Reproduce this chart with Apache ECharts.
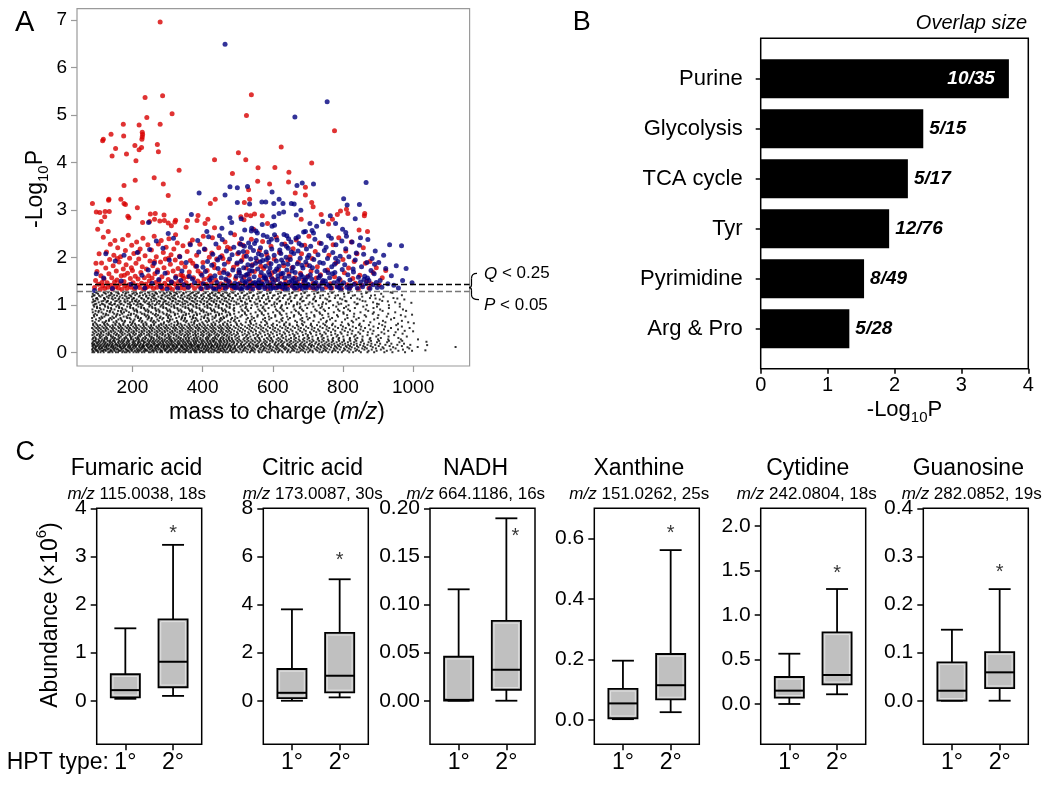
<!DOCTYPE html>
<html><head><meta charset="utf-8">
<script src="https://cdn.jsdelivr.net/npm/echarts@6/dist/echarts.min.js"></script>
<style>html,body{margin:0;padding:0;background:#fff}#c{width:1050px;height:785px}</style>
</head><body><div id="c"></div>
<script>
// ---------------- DATA ----------------
const qThreshold = 1.44;   // Q < 0.25
const pThreshold = 1.30;   // P < 0.05
const mzTicks = [200, 400, 600, 800, 1000];
const logTicks = [0, 1, 2, 3, 4, 5, 6, 7];
const redPts = [[279,6.96],[286,5.41],[236,5.37],[241,4.95],[313,5.03],[174,4.81],[219,4.79],[279,4.81],[139,4.60],[115,4.46],[117,4.49],[175,4.56],[228,4.64],[229,4.59],[228,4.54],[227,4.49],[152,4.30],[142,4.14],[207,4.36],[226,4.32],[219,4.27],[271,4.38],[274,4.23],[183,4.18],[210,4.04],[333,3.84],[262,3.68],[208,3.63],[288,3.55],[176,3.52],[302,3.31],[133,3.23],[167,3.23],[434,4.06],[502,4.21],[523,4.06],[525,4.99],[485,3.77],[531,3.43],[539,5.43],[776,4.67],[624,4.33],[558,3.89],[606,3.90],[711,3.99],[646,3.80],[557,3.61],[591,3.55],[645,3.59],[693,3.48],[664,3.36],[693,3.32],[534,3.23],[86,3.14],[132,3.21],[176,3.14],[122,2.97],[134,2.97],[187,2.87],[190,2.84],[214,3.05],[265,2.93],[251,2.92],[290,2.90],[229,2.74],[249,2.76],[278,2.77],[291,2.78],[302,2.73],[321,2.75],[263,2.81],[311,2.67],[323,2.79],[357,2.78],[353,2.64],[387,2.89],[384,2.78],[407,2.72],[415,2.81],[434,2.63],[422,3.14],[436,3.23],[509,2.86],[518,2.80],[525,2.90],[537,2.88],[545,2.60],[570,2.88],[585,2.72],[97,2.96],[107,2.95],[111,2.76],[121,2.86],[180,3.12],[711,3.16],[715,3.07],[738,2.91],[759,2.71],[770,2.81],[784,2.91],[793,2.98],[810,3.02],[814,2.93],[862,2.93],[861,2.88],[846,2.58],[870,2.55],[681,2.81],[519,3.16],[548,2.92],
[92,1.37],[95,1.52],[99,1.71],[103,1.44],[105,2.08],[108,1.33],[110,1.62],[112,1.89],[115,1.41],[117,2.43],[119,1.55],[121,1.35],[124,1.78],[126,2.12],[128,1.47],[130,1.38],[133,1.66],[135,1.96],[137,2.28],[139,1.42],[141,1.58],[143,1.34],[145,1.83],[147,2.05],[149,1.49],[150,2.36],[96,1.88],[101,2.60],[113,1.48],[131,2.55],
[152,1.39],[154,1.72],[156,1.53],[158,2.21],[160,1.36],[162,1.91],[164,1.45],[166,2.02],[168,1.62],[170,1.33],[172,2.38],[174,1.76],[176,1.50],[178,1.41],[180,2.15],[182,1.85],[184,1.35],[186,1.67],[188,2.47],[190,1.43],[192,1.99],[194,1.56],[196,1.38],[198,2.26],[200,1.73],[202,1.47],[204,2.09],[206,1.34],[208,1.61],[210,1.88],[212,2.33],[214,1.42],[216,1.55],[218,1.97],[220,1.37],[222,2.18],[224,1.69],[226,1.46],[228,1.81],[230,2.41],[232,1.33],[234,1.58],[236,2.04],[238,1.44],[240,1.76],[242,1.39],[244,2.27],[246,1.62],[248,1.51],[250,1.93],[157,1.98],[177,1.63],[197,1.79],[217,2.12],[237,1.36],
[252,1.40],[254,2.16],[256,1.57],[258,1.83],[260,1.35],[262,2.45],[264,1.66],[266,1.48],[268,2.02],[270,1.38],[272,1.74],[274,2.29],[276,1.52],[278,1.43],[280,1.91],[282,2.36],[284,1.60],[286,1.34],[288,2.11],[290,1.79],[292,1.46],[294,1.97],[296,2.22],[298,1.41],[300,1.68],[302,1.54],[304,2.40],[306,1.37],[308,1.86],[310,2.06],[312,1.49],[314,1.33],[316,1.72],[318,2.18],[320,1.45],[322,1.95],[324,1.61],[326,1.39],[328,2.31],[330,1.77],[332,1.50],[334,2.03],[336,1.36],[338,1.64],[340,1.89],[342,1.43],[344,2.25],[346,1.56],[348,1.35],[350,1.81],[263,1.92],[283,1.37],[303,1.99],[323,2.48],[343,1.62],
[353,1.47],[356,2.13],[359,1.38],[362,1.70],[365,1.94],[368,1.42],[371,2.37],[374,1.58],[377,1.35],[380,1.82],[383,2.05],[386,1.51],[389,1.40],[392,2.28],[395,1.66],[398,1.34],[401,1.90],[404,1.55],[407,2.17],[410,1.44],[413,1.73],[416,1.37],[419,2.01],[422,1.62],[425,1.48],[428,2.42],[431,1.36],[434,1.79],[437,1.53],[440,1.97],[443,1.41],[446,2.21],[449,1.68],[358,1.60],[372,1.88],[387,1.72],[402,2.45],[417,1.57],[432,1.86],[447,1.33],[364,2.30],[396,1.46],[426,2.10],
[452,1.45],[455,2.04],[458,1.36],[461,1.74],[464,2.33],[467,1.52],[470,1.39],[473,1.91],[476,1.63],[479,2.19],[482,1.42],[485,1.35],[488,1.80],[491,2.48],[494,1.56],[497,1.38],[500,2.08],[503,1.69],[506,1.46],[509,1.34],[512,1.95],[515,2.26],[518,1.59],[521,1.43],[524,1.78],[527,2.12],[530,1.37],[533,1.65],[536,1.50],[539,2.39],[542,1.85],[545,1.41],[548,1.71],[458,1.98],[478,1.48],[498,1.86],[518,2.03],[538,1.33],[471,2.22],[505,2.30],
[553,1.44],[556,1.93],[559,1.36],[562,2.15],[565,1.62],[568,1.49],[571,2.34],[574,1.77],[577,1.39],[580,1.55],[583,2.06],[586,1.34],[589,1.88],[592,1.47],[595,2.24],[598,1.68],[601,1.41],[604,1.97],[607,1.53],[610,2.43],[613,1.37],[616,1.74],[619,2.11],[622,1.45],[625,1.60],[628,1.35],[631,1.83],[634,2.29],[637,1.50],[640,1.40],[643,1.95],[646,1.66],[649,2.02],[566,1.82],[596,1.59],
[652,1.42],[655,1.79],[658,2.19],[661,1.36],[664,1.58],[667,2.37],[670,1.48],[673,1.91],[676,1.34],[679,1.67],[682,2.08],[685,1.44],[688,1.53],[691,2.26],[694,1.39],[697,1.85],[700,1.61],[703,2.45],[706,1.37],[709,1.72],[712,1.98],[715,1.46],[718,1.35],[721,2.13],[724,1.57],[727,1.81],[730,1.41],[733,2.31],[736,1.64],[742,1.49],
[752,1.38],[756,1.74],[760,2.05],[764,1.45],[768,1.36],[772,2.27],[776,1.60],[780,1.89],[784,1.41],[788,2.42],[792,1.53],[796,1.35],[800,1.96],[804,1.68],[808,2.14],[812,1.43],[816,1.78],[820,1.37],[824,2.33],[828,1.56],[832,1.92],[836,1.46],[840,2.08],[844,1.34],[848,1.63],
[853,1.42],[858,2.21],[864,1.88],[868,1.51],[874,1.36],[877,1.92],[880,1.45],[886,1.69],[895,1.79],[903,1.43],[912,1.58],[922,1.73]];
const bluePts = [[464,6.49],[390,3.36],[478,3.49],[499,3.47],[528,3.50],[464,3.32],[755,5.28],[663,4.96],[669,3.52],[684,3.57],[716,3.55],[866,3.58],[598,3.38],[618,3.23],[802,3.24],[368,2.91],[246,2.74],[499,3.16],[478,2.84],[534,3.13],[569,3.17],[580,3.17],[603,2.86],[570,2.70],[598,2.66],[605,2.68],[455,2.62],[483,2.74],[510,2.82],[540,2.62],[552,2.56],[603,3.14],[629,3.14],[653,3.14],[661,3.13],[680,3.00],[667,2.90],[812,3.11],[835,2.82],[847,3.12],[799,2.60],[808,2.53],[706,2.72],[742,2.76],[764,2.88],[779,2.72],[725,2.66],[712,2.57],[693,2.55],[640,2.46],[618,2.93],[631,2.96],
[92,1.31],[97,1.66],[118,1.57],[124,2.08],[143,1.35],[151,1.93],[168,1.51],[176,2.05],[196,1.44],[209,1.38],[214,2.11],[227,1.63],[235,1.36],[245,1.74],[249,2.17],
[256,1.46],[262,1.88],[268,2.35],[275,1.54],[281,1.39],[287,2.20],[293,1.67],[299,1.34],[305,1.95],[311,1.49],[317,2.41],[323,1.58],[329,1.36],[335,2.02],[341,1.72],[347,1.43],[353,1.90],[359,1.38],[365,2.27],[371,1.55],[377,1.47],[383,1.82],[389,2.12],[395,1.35],[398,1.63],[271,1.70],[302,2.51],[338,1.52],[362,1.61],[386,2.36],
[402,1.45],[405,2.18],[408,1.71],[411,1.37],[414,1.92],[417,2.44],[420,1.53],[423,1.40],[426,1.84],[429,2.07],[432,1.34],[435,1.62],[438,2.29],[441,1.48],[444,1.77],[447,1.39],[450,2.01],[453,1.58],[456,2.38],[459,1.43],[462,1.86],[465,1.35],[468,2.14],[471,1.66],[474,1.51],[477,1.97],[480,2.52],[483,1.41],[486,1.74],[489,2.22],[492,1.46],[495,1.36],[498,1.89],[401,1.80],[412,2.55],[425,1.57],[437,1.33],[448,2.46],[460,1.69],[472,1.42],[484,2.06],[496,1.61],[443,1.95],[466,1.55],[490,1.38],
[501,1.44],[503,2.11],[505,1.68],[507,1.35],[509,1.92],[511,2.40],[513,1.52],[515,1.39],[517,1.79],[519,2.24],[521,1.47],[523,1.63],[525,2.03],[527,1.36],[529,1.85],[531,2.31],[533,1.55],[535,1.42],[537,1.97],[539,2.56],[541,1.72],[543,1.34],[545,2.15],[547,1.60],[549,1.48],[551,1.88],[553,2.36],[555,1.41],[557,1.76],[559,2.08],[561,1.53],[563,1.37],[565,2.21],[567,1.69],[569,1.45],[571,1.94],[573,2.47],[575,1.58],[577,1.35],[579,1.82],[581,2.12],[583,1.50],[585,1.40],[587,2.00],[589,2.33],[591,1.64],[593,1.43],[595,1.87],[597,2.18],[599,1.55],[504,1.74],[512,1.33],[520,2.58],[528,1.65],[536,2.22],[544,1.46],[552,1.99],[560,1.38],[568,2.05],[576,1.62],[584,2.44],[592,1.78],[600,1.37],[508,2.28],[524,1.50],[540,1.83],[556,2.52],[572,1.43],[588,1.70],[516,2.13],[532,1.40],[548,2.30],[564,1.91],[580,1.57],[596,2.39],[510,1.61],[534,1.73],[558,1.47],[582,1.96],[594,1.34],
[602,1.48],[604,2.05],[606,1.71],[608,1.36],[610,1.93],[612,2.37],[614,1.54],[616,1.41],[618,1.82],[620,2.16],[622,1.45],[624,1.66],[626,2.28],[628,1.38],[630,1.89],[632,2.49],[634,1.57],[636,1.43],[638,2.01],[640,1.74],[642,1.34],[644,2.20],[646,1.61],[648,1.49],[650,1.96],[652,2.33],[654,1.52],[656,1.40],[658,1.80],[660,2.09],[662,1.46],[664,1.69],[666,2.41],[668,1.37],[670,1.87],[672,2.14],[674,1.55],[676,1.42],[678,1.99],[680,1.64],[682,2.26],[684,1.35],[686,1.78],[688,2.54],[690,1.50],[692,1.39],[694,1.91],[696,2.18],[698,1.59],[700,1.44],[605,2.48],[615,1.62],[625,1.95],[635,1.33],[645,2.40],[655,1.72],[665,1.48],[675,2.30],[685,1.60],[695,1.36],[611,1.76],[623,2.09],[633,1.44],[643,1.86],[653,2.12],[663,1.35],[673,2.44],[683,1.84],[693,1.53],[619,1.39],[639,2.24],[659,1.56],[679,1.41],[699,2.00],[629,1.67],
[702,1.42],[705,1.83],[708,2.24],[711,1.55],[714,1.37],[717,1.96],[720,2.39],[723,1.48],[726,1.71],[729,2.06],[732,1.40],[735,1.62],[738,2.30],[741,1.34],[744,1.88],[747,2.15],[750,1.51],[753,1.44],[756,1.98],[759,2.46],[762,1.58],[765,1.36],[768,1.81],[771,2.11],[774,1.47],[777,1.69],[780,2.27],[783,1.39],[786,1.92],[789,1.56],[792,2.03],[795,1.43],[798,1.75],[707,1.64],[716,2.52],[725,1.35],[734,1.90],[743,1.52],[752,2.22],[761,1.41],[770,1.66],[779,1.99],[788,1.37],[797,2.35],[713,1.79],[731,1.58],[749,1.73],[767,2.41],[785,1.50],[703,2.05],[740,1.46],[758,1.68],[776,1.86],[794,1.33],[719,1.45],
[802,1.47],[805,1.85],[808,2.19],[811,1.38],[814,1.64],[817,2.02],[820,1.53],[823,1.41],[826,2.33],[829,1.76],[832,1.44],[835,1.95],[838,2.10],[841,1.36],[844,1.59],[847,2.26],[850,1.49],[853,1.81],[856,1.39],[859,2.07],[862,1.61],[865,1.45],[868,1.90],[871,2.38],[874,1.52],[877,1.35],[880,1.73],[883,1.98],[886,1.43],[889,1.66],[892,2.14],[895,1.48],[898,1.37],[810,2.45],[830,1.70],[850,2.42],[870,1.57],[890,1.86],[818,1.34],[860,1.54],
[902,1.90],[906,1.52],[911,1.38],[916,2.05],[922,1.77],[928,1.45],[933,2.27],[938,1.62],[945,1.42],[952,1.83],[958,1.36],[967,2.25],[970,1.52],[980,1.77],[997,1.47]];
const blackRows = [
[0.01,[86,91,102,109,118,131,135,143,153,159,171,178,183,192,203,211,217,227,234,247,252,260,271,279,285,298,302,311,322,326,337,345,350,361,367,378,383,392,401,406,418,425,431,442,447,459,466,472,484,490,503,511,527,535,548,561,568,584,590,607,615,628,641,650,668,674,692,701,714,733,740,758,769,786,797,818,829,851,870,889,918,941,977]],
[0.04,[88,97,101,112,116,124,137,141,149,162,166,174,186,189,198,207,215,221,232,238,243,256,261,268,281,284,293,303,308,317,329,333,341,353,357,366,375,381,394,398,409,415,423,434,439,451,455,463,476,481,494,499,515,522,538,544,559,571,579,596,603,618,625,643,654,661,679,687,705,713,727,744,752,771,779,801,813,836,846,873,896,925,958,997]],
[0.065,[85,94,98,107,119,123,130,138,147,155,160,169,181,184,195,200,212,218,225,236,240,250,258,266,274,280,291,296,307,313,320,331,336,347,352,360,371,377,385,390,403,410,417,428,433,444,450,461,468,478,486,496,508,517,530,541,550,565,573,588,598,611,620,635,645,658,670,683,696,707,723,735,749,762,776,791,806,822,840,861,882,908,936,971]],
[0.09,[87,93,104,110,114,127,133,144,150,157,168,173,180,191,197,205,214,223,229,235,246,254,263,269,277,288,294,300,310,318,324,334,343,349,356,365,372,380,388,396,404,412,420,426,437,445,452,458,470,479,488,493,506,519,525,539,547,562,575,582,593,608,616,632,639,655,664,678,689,702,719,730,745,755,774,784,803,817,834,855,868,894,916,950,989]],
[0.115,[89,96,105,113,121,126,139,145,152,164,167,176,187,193,201,209,220,226,231,244,249,257,265,273,283,289,299,305,315,323,328,339,344,355,363,369,379,386,391,399,408,416,424,432,440,446,457,464,473,482,491,501,512,521,534,543,555,567,577,591,601,613,627,636,651,660,675,686,699,710,726,738,750,766,781,794,811,825,844,863,885,913,943,984]],
[0.14,[86,95,100,108,117,125,132,140,146,158,163,172,179,188,194,204,210,219,228,233,241,251,256,267,272,282,290,297,304,314,319,327,338,342,351,359,368,374,384,389,400,407,414,425,430,441,449,456,465,474,480,492,505,514,528,536,551,558,572,585,594,610,622,630,646,657,667,682,693,709,717,736,747,760,777,789,808,820,840,858,879,902,933,968]],
[0.165,[88,92,103,111,120,128,134,142,151,156,165,175,182,190,199,206,213,222,230,239,245,253,262,270,276,286,292,301,309,316,325,332,340,348,354,364,370,378,387,393,402,411,419,427,435,443,451,460,467,476,485,497,510,518,532,545,553,566,580,589,605,614,626,641,648,663,677,688,703,712,729,742,756,768,785,799,815,831,849,870,892,921,955,992]],
[0.19,[85,91,99,106,115,122,129,137,144,153,161,170,177,185,192,202,208,216,224,232,242,248,259,264,275,281,288,298,306,312,321,330,335,345,353,361,367,376,382,395,401,410,418,424,436,442,450,459,469,477,489,498,509,522,533,542,557,569,578,592,606,617,629,642,653,666,680,691,706,721,732,748,761,775,792,806,823,839,860,881,906,938,974]],
[0.22,[87,97,102,109,118,124,135,141,150,159,166,173,183,189,200,205,216,221,233,237,247,255,262,271,279,287,295,303,311,317,328,334,343,350,358,366,375,381,390,398,406,415,423,431,438,448,454,463,471,483,490,502,513,526,537,549,561,574,583,599,609,623,633,648,659,671,684,697,711,724,739,753,768,782,798,814,832,851,873,897,926,961]],
[0.25,[90,94,105,112,119,130,136,145,149,162,169,176,186,191,203,209,218,226,231,243,250,258,266,274,284,291,299,308,313,322,331,339,346,356,362,373,380,386,397,403,413,421,429,433,446,452,461,470,478,487,499,508,520,531,543,556,565,579,592,600,616,626,640,652,665,677,690,705,716,732,745,759,772,789,803,821,838,856,880,903,931,969]],
[0.28,[86,96,103,114,121,127,138,147,155,160,171,178,187,196,202,213,219,228,236,245,253,261,269,278,286,293,304,310,320,326,336,344,352,360,369,377,385,393,400,410,416,426,434,441,450,458,467,475,484,494,504,516,527,539,551,563,575,587,597,611,621,637,646,661,674,686,699,713,728,741,757,770,787,802,819,835,855,876,900,929,965]],
[0.31,[88,95,108,121,128,143,150,163,177,183,196,209,216,231,239,254,260,275,283,298,306,317,331,338,352,361,375,383,394,409,416,430,437,452,460,474,483,499,519,530,549,561,583,595,616,630,652,666,690,703,729,745,772,789,820,841,878,908,958]],
[0.34,[92,106,112,125,139,145,160,167,181,194,200,215,222,236,249,255,270,277,292,303,309,325,332,347,357,366,380,388,401,413,420,435,444,456,468,476,492,504,524,536,556,569,590,603,625,638,661,675,699,713,739,756,782,801,832,856,895,930,982]],
[0.37,[86,99,107,117,131,138,153,161,172,186,193,206,219,226,241,248,263,271,285,294,304,318,326,339,350,359,373,381,395,403,418,425,439,447,461,470,483,496,514,527,545,558,578,591,612,627,648,662,686,700,724,741,767,785,813,836,870,901,946]],
[0.40,[91,103,111,126,133,147,156,169,178,191,202,210,224,233,246,255,268,279,287,301,311,320,334,343,355,364,378,387,399,411,420,433,442,455,464,477,489,501,520,533,552,565,586,600,620,635,657,671,694,709,735,751,778,796,825,849,884,918,970]],
[0.43,[87,97,110,118,132,140,151,165,172,186,197,205,219,228,241,250,263,272,284,293,307,315,328,337,351,360,372,380,395,404,416,427,436,450,458,471,481,498,512,530,543,562,576,595,611,631,646,667,684,706,724,747,766,793,814,844,871,910,950]],
[0.46,[93,104,115,124,138,146,160,168,181,190,203,212,226,234,247,256,269,278,291,300,313,322,335,343,357,366,379,388,401,410,423,432,445,454,467,476,490,506,521,538,552,571,585,605,620,641,656,678,694,717,733,758,778,805,827,858,887,929,976]],
[0.49,[89,101,110,123,131,144,154,167,175,189,197,210,219,232,241,254,263,275,285,297,307,320,328,341,351,363,372,386,394,407,417,429,438,452,460,473,484,501,515,533,548,566,581,600,615,636,651,673,689,711,729,753,772,798,820,850,878,917,957]],
[0.52,[85,97,106,118,127,141,149,162,171,184,193,206,214,228,237,250,258,271,281,293,302,316,324,337,346,359,368,381,390,403,412,425,434,447,456,469,478,494,509,527,541,559,573,592,607,627,643,663,680,701,719,742,761,786,808,837,863,900,937,990]],
[0.55,[92,102,114,124,136,145,159,167,180,189,202,211,223,233,246,254,268,276,289,298,311,320,333,342,355,364,377,386,398,408,421,430,443,452,465,474,489,503,521,535,553,567,586,601,621,637,657,673,695,712,735,754,778,800,828,852,887,920,968]],
[0.58,[88,100,108,121,131,143,152,165,174,187,196,209,218,231,240,253,261,275,283,296,305,319,327,340,349,362,371,384,393,405,415,427,436,449,459,471,481,498,513,531,545,563,578,597,612,632,648,669,686,708,726,749,769,794,817,846,874,912,952]],
[0.61,[88,97,119,128,151,162,174,199,207,231,240,262,281,289,311,330,337,360,376,391,402,425,436,458,470,497,509,538,553,584,601,633,648,683,709,744,771,815,848,903,957]],
[0.64,[93,115,122,146,155,177,193,201,226,237,258,266,290,303,320,329,352,368,376,399,413,431,447,463,479,494,523,536,567,582,619,638,669,690,731,752,797,829,878,921,986]],
[0.67,[86,104,125,133,154,171,179,203,219,228,252,261,275,299,306,327,346,355,378,386,409,418,440,451,472,489,504,535,549,578,611,627,664,684,716,754,779,825,859,914,968]],
[0.70,[96,109,133,141,160,168,195,206,222,243,254,271,285,307,314,339,349,369,383,395,417,428,449,456,481,492,525,540,572,590,624,644,679,700,737,763,806,838,889,937]],
[0.73,[85,106,114,137,147,166,185,192,216,224,246,255,278,288,302,325,341,350,373,380,404,414,434,452,461,484,499,529,546,578,596,628,649,684,705,744,769,813,845,899,946]],
[0.76,[91,112,120,143,153,175,183,209,216,239,247,268,280,301,310,333,342,364,372,397,405,428,437,459,468,493,508,540,556,589,607,641,660,697,719,759,786,831,866,925,978]],
[0.79,[90,99,124,131,155,164,188,195,211,235,243,264,273,297,305,321,345,352,375,384,408,416,438,447,470,479,512,525,557,574,607,625,661,680,718,741,783,812,862,901,965]],
[0.82,[94,117,125,148,157,171,196,204,227,234,258,267,289,298,321,329,353,361,383,392,416,423,447,455,478,490,521,537,569,587,621,639,675,696,735,758,802,832,885,929]],
[0.85,[87,103,112,135,144,168,176,190,214,223,245,253,277,286,309,317,340,348,371,380,403,411,435,442,466,474,503,520,551,568,601,619,653,673,710,733,774,801,850,888,949]],
[0.88,[95,104,128,136,159,167,183,206,213,238,246,268,277,301,308,332,340,364,371,396,403,427,434,458,466,490,514,530,563,579,613,631,666,687,725,749,790,820,872,913,980]],
[0.91,[86,110,118,140,149,172,180,203,211,235,243,266,274,298,306,329,337,361,369,392,400,424,432,455,463,488,511,527,559,576,609,627,662,683,721,745,786,815,865,906,971]],
[0.94,[99,107,131,139,162,170,194,202,225,233,257,265,288,296,320,328,351,359,383,391,414,422,446,454,477,490,522,538,571,588,622,641,677,698,736,760,803,834,887,931]],
[0.97,[91,99,122,130,154,162,185,193,217,225,248,256,280,288,311,319,343,351,374,382,406,414,437,445,469,477,508,524,556,573,606,624,659,679,716,740,781,809,858,897,962]],
[1.00,[89,108,121,142,158,175,196,211,229,251,264,283,305,318,337,359,372,391,413,426,446,467,489,514,540,566,597,626,660,693,731,772,816,868,931]],
[1.02,[93,117,137,148,166,192,215,224,247,268,287,300,326,344,366,381,402,421,438,457,479,497,522,551,579,604,637,669,702,741,788,839,902]],
[1.03,[97,113,134,150,169,187,204,222,243,257,276,296,311,330,350,365,384,404,419,439,458,476,503,527,556,583,612,646,677,713,752,795,842,897,962]],
[1.06,[86,104,126,139,163,180,193,215,236,248,270,288,303,323,342,357,377,396,412,432,451,471,496,521,548,575,605,638,670,705,743,785,833,886,949]],
[1.08,[90,112,128,151,177,199,210,232,255,279,292,313,335,354,373,393,414,431,449,468,490,512,537,563,590,619,652,684,722,760,810,864,928]],
[1.09,[94,117,130,155,166,186,207,219,240,262,275,295,316,331,349,369,385,405,425,440,462,482,509,535,563,591,621,653,688,723,764,807,856,912]],
[1.12,[88,101,122,145,160,178,199,212,233,253,268,289,308,324,344,363,379,398,418,434,455,475,500,525,553,581,611,643,678,715,755,798,848,905,975]],
[1.14,[96,120,141,162,185,203,227,244,265,284,306,321,343,362,380,401,422,443,463,485,507,532,559,587,615,648,680,717,750,792,841,893,955]],
[1.15,[99,119,132,151,172,190,204,225,246,260,281,301,316,337,356,371,391,411,426,447,467,486,516,541,569,598,629,662,696,735,777,823,877,944]],
[1.18,[85,109,127,143,164,183,197,218,239,256,274,294,312,330,349,366,384,404,421,441,460,478,506,531,559,587,619,650,684,720,761,804,855,915]],
[1.20,[89,105,133,156,178,195,221,240,261,283,299,318,339,357,378,396,417,435,455,474,495,518,544,572,601,632,664,699,736,779,828,880]],
[1.21,[92,114,137,148,170,191,208,230,249,263,286,305,321,341,361,376,397,416,431,452,472,493,522,546,575,605,636,668,704,743,786,834,891,968]],
[1.24,[87,102,124,141,161,180,200,213,236,257,270,292,310,327,346,365,382,402,421,437,458,477,501,527,556,584,615,647,681,718,758,803,853,909]],
[1.26,[98,121,139,159,182,204,222,248,266,289,307,324,345,369,387,408,427,448,469,488,511,534,562,592,622,655,690,727,768,815,866,941]],
[1.27,[95,118,131,154,173,188,210,227,244,266,279,298,319,334,353,373,389,409,428,444,464,484,513,538,566,594,624,657,692,730,771,817,869,936]]
];
const blackExtra = [[1014,0.28],[1038,0.23],[1040,0.16],[1121,0.12],[1013,0.12],[1000,0.45],[997,0.80],[995,1.05],[1002,0.62],[1035,0.05]];

const pathways = ['Purine', 'Glycolysis', 'TCA cycle', 'Tyr', 'Pyrimidine', 'Arg & Pro'];
const pathwayLogP = [3.71, 2.43, 2.20, 1.92, 1.545, 1.325];
const overlapSize = ['10/35', '5/15', '5/17', '12/76', '8/49', '5/28'];

const metNames = ['Fumaric acid', 'Citric acid', 'NADH', 'Xanthine', 'Cytidine', 'Guanosine'];
const metInfo = ['115.0038, 18s', '173.0087, 30s', '664.1186, 16s', '151.0262, 25s', '242.0804, 18s', '282.0852, 19s'];
const hptLabels = ['1°', '2°'];
// [min, Q1, median, Q3, max]
const stats1 = [[0.04,0.07,0.22,0.55,1.505],[0.0,0.11,0.33,1.32,3.8],[0,0,0.001,0.0457,0.1158],[0.003,0.006,0.055,0.103,0.196],[0.0,0.071,0.15,0.303,0.565],[0,0,0.0208,0.0798,0.1476]];
const stats2 = [[0.10,0.28,0.81,1.69,3.24],[0.14,0.35,1.04,2.82,5.05],[0,0.0114,0.0322,0.0829,0.1896],[0.026,0.068,0.115,0.218,0.561],[0.109,0.221,0.326,0.805,1.292],[0,0.026,0.059,0.101,0.232]];
const starX = [2, 2, 2.19, 2, 2, 2];
const starY = [3.58, 6.02, 0.1764, 0.633, 1.52, 0.278];
const yMin = [-0.906, -1.81, -0.0453, -0.080, -0.453, -0.0906];
const yMax = [4, 8, 0.2, 0.699, 2.199, 0.4];
const yTicks = [[0,1,2,3,4],[0,2,4,6,8],[0,0.05,0.1,0.15,0.2],[0,0.2,0.4,0.6],[0,0.5,1,1.5,2],[0,0.1,0.2,0.3,0.4]];
const yDec = [0, 0, 2, 1, 1, 1];

// ---------------- LAYOUT ----------------
const FF = '"Liberation Sans", Arial, Helvetica, sans-serif';
const panelLeft = [96.7, 263.3, 430, 594.3, 760.7, 923.3];
const titleX = [136.5, 312.5, 475.5, 638.8, 807.8, 968.3];
const subX = [136.7, 312.8, 475.8, 639.3, 806.8, 971.7];

const blackPts = blackRows.flatMap(r => r[1].map(x => [x, r[0]])).concat(blackExtra);

const grids = [
  {left:77, top:8.7, width:392.6, height:357.3, show:true, borderColor:'#9a9a9a', borderWidth:1.2},
  {left:760.7, top:38.3, width:267.6, height:330.4, show:true, borderColor:'#000', borderWidth:1.5},
  {left:760.7, top:53.8, width:267.6, height:300}
];
panelLeft.forEach(l => grids.push({left:l, top:508.3, width:105, height:236, show:true, borderColor:'#000', borderWidth:1.5}));

const noLine = {show:false, onZero:false};
const xAxes = [
  {gridIndex:0, type:'value', min:42, max:1161, axisLine:noLine, splitLine:{show:false},
   axisTick:{show:true, length:6, customValues:mzTicks, lineStyle:{color:'#9a9a9a', width:1.2}},
   axisLabel:{customValues:mzTicks, formatter:v => String(v), fontSize:19, fontFamily:FF, color:'#000', margin:12}},
  {gridIndex:1, type:'value', min:0, max:4, interval:1, axisLine:noLine, splitLine:{show:false},
   axisTick:{show:true, length:5, lineStyle:{color:'#000', width:1.5}},
   axisLabel:{fontSize:20, fontFamily:FF, color:'#000', margin:7}},
  {gridIndex:2, type:'value', min:0, max:4, show:false}
];
const yAxes = [
  {gridIndex:0, type:'value', min:-0.28, max:7.24, axisLine:noLine, splitLine:{show:false},
   axisTick:{show:true, length:6, customValues:logTicks, lineStyle:{color:'#9a9a9a', width:1.2}},
   axisLabel:{customValues:logTicks, formatter:v => String(v), fontSize:19, fontFamily:FF, color:'#000', margin:10}},
  {gridIndex:1, type:'value', min:0, max:1, show:false},
  {gridIndex:2, type:'category', inverse:true, data:pathways, axisLine:noLine,
   axisTick:{show:true, alignWithLabel:true, length:5, lineStyle:{color:'#000', width:1.5}},
   axisLabel:{fontSize:22, fontFamily:FF, color:'#000', margin:18}}
];
for (let i = 0; i < 6; i++) {
  xAxes.push({gridIndex:3+i, type:'value', min:0.4, max:2.6, axisLine:noLine, splitLine:{show:false},
    axisTick:{show:true, length:6, customValues:[1,2], lineStyle:{color:'#000', width:1.5}},
    axisLabel:{customValues:[1,2], formatter:v => hptLabels[Math.round(v)-1], fontSize:23, fontFamily:FF, color:'#000', margin:7}});
  yAxes.push({gridIndex:3+i, type:'value', min:yMin[i], max:yMax[i], axisLine:noLine, splitLine:{show:false},
    axisTick:{show:true, length:6, customValues:yTicks[i], lineStyle:{color:'#000', width:1.5}},
    axisLabel:{customValues:yTicks[i], formatter:(d => v => v.toFixed(d))(yDec[i]), fontSize:21, fontFamily:FF, color:'#000', margin:10}});
}

function boxRender(params, api) {
  const x = api.value(0);
  const p = [1,2,3,4,5].map(k => api.coord([x, api.value(k)]));
  const cx = p[0][0];
  const bw = api.size([0.61, 0])[0];
  const cw = api.size([0.46, 0])[0];
  const lo = p[0][1], q1 = p[1][1], md = p[2][1], q3 = p[3][1], hi = p[4][1];
  const ls = {stroke:'#000', lineWidth:1.8, fill:null};
  const ch = [
    {type:'line', shape:{x1:cx, y1:q3, x2:cx, y2:hi}, style:ls},
    {type:'line', shape:{x1:cx, y1:q1, x2:cx, y2:lo}, style:ls},
    {type:'line', shape:{x1:cx-cw/2, y1:hi, x2:cx+cw/2, y2:hi}, style:ls},
    {type:'line', shape:{x1:cx-cw/2, y1:lo, x2:cx+cw/2, y2:lo}, style:ls},
    {type:'rect', shape:{x:cx-bw/2, y:q3, width:bw, height:q1-q3}, style:{fill:'#c0c0c0', stroke:'#000', lineWidth:1.8}}
  ];
  if (q1 - q3 > 6) ch.push({type:'rect', shape:{x:cx-bw/2+2.2, y:q3+2.2, width:bw-4.4, height:q1-q3-4.4}, style:{fill:null, stroke:'#e2e2e2', lineWidth:1}});
  ch.push({type:'line', shape:{x1:cx-bw/2, y1:md, x2:cx+bw/2, y2:md}, style:{stroke:'#000', lineWidth:2}});
  return {type:'group', children:ch};
}

const series = [
  {type:'scatter', xAxisIndex:0, yAxisIndex:0, data:blackPts, symbol:'rect', symbolSize:2, itemStyle:{color:'#000'}, silent:true, progressive:0, z:2,
   markLine:{silent:true, symbol:['none','none'], label:{show:false}, animation:false,
     data:[{yAxis:qThreshold, lineStyle:{color:'#000', type:[6,3], width:1.3}}, {yAxis:pThreshold, lineStyle:{color:'#777', type:[6,3], width:1.3}}]}},
  {type:'scatter', xAxisIndex:0, yAxisIndex:0, data:redPts, symbol:'circle', symbolSize:5, itemStyle:{color:'#d80000'}, silent:true, z:3},
  {type:'scatter', xAxisIndex:0, yAxisIndex:0, data:bluePts, symbol:'circle', symbolSize:5, itemStyle:{color:'#000080'}, silent:true, z:4},
  {type:'bar', xAxisIndex:2, yAxisIndex:2, barWidth:39, itemStyle:{color:'#000'}, silent:true,
   data:pathwayLogP.map((v, i) => i === 0 ? {value:v, label:{position:'insideRight', distance:14, color:'#fff'}} : v),
   label:{show:true, position:'right', distance:6, fontSize:19, fontWeight:'bold', fontStyle:'italic', fontFamily:FF, color:'#000', formatter:p => overlapSize[p.dataIndex]}}
];
for (let i = 0; i < 6; i++) {
  series.push({type:'custom', xAxisIndex:3+i, yAxisIndex:3+i, renderItem:boxRender, silent:true,
    data:[[1].concat(stats1[i]), [2].concat(stats2[i])]});
  series.push({type:'scatter', xAxisIndex:3+i, yAxisIndex:3+i, data:[[starX[i], starY[i]]], symbolSize:1, silent:true,
    itemStyle:{color:'rgba(0,0,0,0)'}, label:{show:true, position:'inside', formatter:'*', fontSize:20, fontFamily:FF, color:'#000', offset:[0,5]}});
}

const chart = echarts.init(document.getElementById('c'), null, {renderer:'canvas', width:1050, height:785});
chart.setOption({animation:false, backgroundColor:'#fff', textStyle:{fontFamily:FF}, grid:grids, xAxis:xAxes, yAxis:yAxes, series:series});

// ---------------- ANNOTATIONS ----------------
const yQ = chart.convertToPixel({gridIndex:0}, [600, qThreshold])[1];
const yP = chart.convertToPixel({gridIndex:0}, [600, pThreshold])[1];
const bx = 471.5, ym = (yQ + yP) / 2;
const bs = {stroke:'#000', lineWidth:1.2, fill:null};
const G = (type, shape) => ({type:type, silent:true, z:100, shape:shape, style:bs});

function T(x, y, text, st, extra) {
  return Object.assign({type:'text', x:x, y:y, silent:true, z:100,
    style:Object.assign({text:text, fontFamily:FF, fontSize:23, fill:'#000', align:'center', verticalAlign:'middle'}, st || {})}, extra || {});
}
const R = (fs, o) => Object.assign({fontSize:fs, fontFamily:FF, fill:'#000'}, o || {});

const graphics = [
  G('bezierCurve', {x1:bx+5.5, y1:yQ-11, cpx1:bx, cpy1:yQ-11, x2:bx, y2:yQ-6}),
  G('line', {x1:bx, y1:yQ-6, x2:bx, y2:ym-2.5}),
  G('bezierCurve', {x1:bx, y1:ym-2.5, cpx1:bx, cpy1:ym, x2:bx-2.5, y2:ym}),
  G('bezierCurve', {x1:bx-2.5, y1:ym, cpx1:bx, cpy1:ym, x2:bx, y2:ym+2.5}),
  G('line', {x1:bx, y1:ym+2.5, x2:bx, y2:yP+4}),
  G('bezierCurve', {x1:bx, y1:yP+4, cpx1:bx, cpy1:yP+8.6, x2:bx+7.5, y2:yP+8.6}),
  T(484, yQ - 10.5, '{i|Q}{n| < 0.25}', {align:'left', rich:{i:R(17,{fontStyle:'italic'}), n:R(17)}}),
  T(484, yP + 14, '{i|P}{n| < 0.05}', {align:'left', rich:{i:R(17,{fontStyle:'italic'}), n:R(17)}}),
  T(24.7, 22.5, 'A', {fontSize:29}),
  T(581.7, 22.8, 'B', {fontSize:27}),
  T(25.3, 453, 'C', {fontSize:27}),
  T(277, 412.5, '{n|mass to charge (}{i|m/z}{n|)}', {rich:{n:R(23), i:R(23,{fontStyle:'italic'})}}),
  T(37.8, 189, '{n|-Log}{s|10}{n|P}', {rich:{n:R(23,{lineHeight:23, verticalAlign:'top'}), s:R(15,{lineHeight:27, verticalAlign:'top', padding:[12,0,0,0]})}}, {rotation:Math.PI/2}),
  T(904.5, 412.3, '{n|-Log}{s|10}{n|P}', {rich:{n:R(22,{lineHeight:22, verticalAlign:'top'}), s:R(15,{lineHeight:26, verticalAlign:'top', padding:[11,0,0,0]})}}),
  T(1027, 23, 'Overlap size', {fontSize:20, fontStyle:'italic', align:'right'}),
  T(48, 615, '{n|Abundance (×10}{p|6}{n|)}', {rich:{n:R(23,{lineHeight:28, verticalAlign:'top', padding:[5,0,0,0]}), p:R(15,{lineHeight:15, verticalAlign:'top'})}}, {rotation:Math.PI/2}),
  T(6.7, 763, 'HPT type:', {align:'left'})
];
for (let i = 0; i < 6; i++) {
  graphics.push(T(titleX[i], 468.5, metNames[i], {fontSize:23}));
  graphics.push(T(subX[i], 494, '{i|m/z}{n| ' + metInfo[i] + '}', {rich:{i:R(17,{fontStyle:'italic'}), n:R(17)}}));
}
chart.setOption({graphic:graphics});
</script>
</body></html>
